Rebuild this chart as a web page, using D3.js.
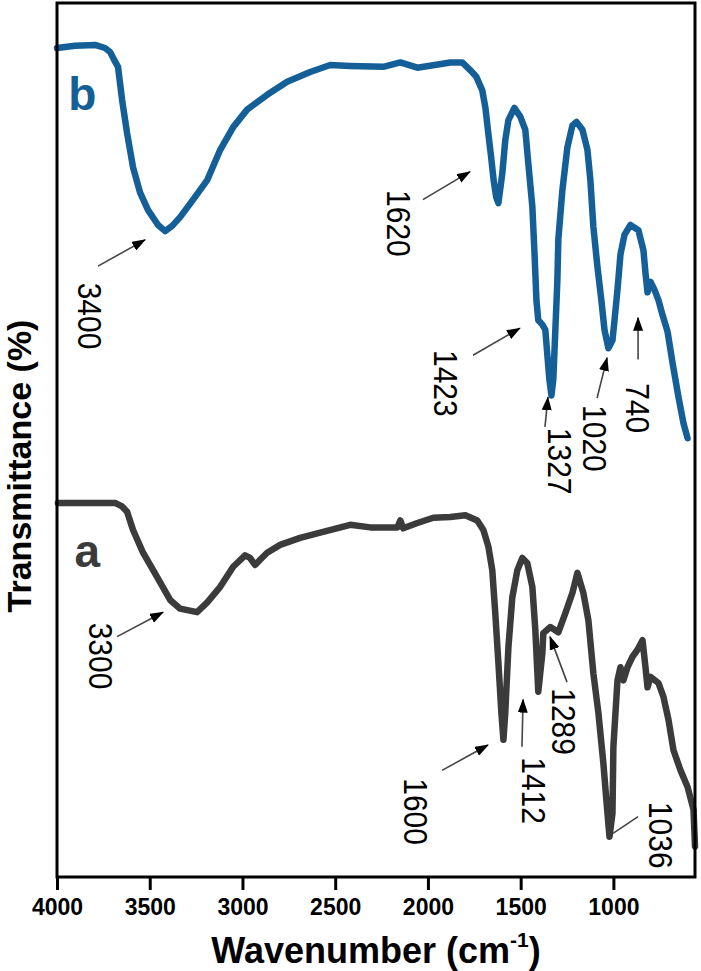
<!DOCTYPE html>
<html><head><meta charset="utf-8">
<script src="https://cdn.jsdelivr.net/npm/d3@7"></script>
<style>
html,body{margin:0;padding:0;background:#fff;}
svg{display:block;}
text{font-family:"Liberation Sans",Arial,sans-serif;}
</style></head>
<body>
<svg id="chart" width="701" height="971"></svg>
<script>
// ---- data ----
const xTicks = [4000, 3500, 3000, 2500, 2000, 1500, 1000];
// spectrum b : [wavenumber, transmittance (a.u.)]
const seriesB = [
[4000,94.85],[3903,95.1],[3795,95.2],[3741,94.85],[3714,94.4],[3692,93.5],[3671,92.7],[3649,88.9],
[3622,85.1],[3590,81.2],[3552,78.3],[3509,76.3],[3455,74.6],[3417,73.9],[3379,74.5],[3336,75.5],
[3266,77.5],[3191,79.7],[3120,83.2],[3050,85.8],[2975,87.8],[2867,89.5],[2759,91.0],[2635,92.1],
[2527,92.9],[2419,92.8],[2241,92.7],[2149,93.2],[2057,92.6],[1879,93.2],[1815,93.2],[1771,92.3],
[1740,91.6],[1707,90.0],[1690,88.0],[1674,85.0],[1660,82.5],[1645,79.6],[1632,77.8],[1620,77.1],
[1599,80.5],[1583,84.3],[1566,86.6],[1534,88.0],[1502,87.0],[1475,85.5],[1459,81.7],[1437,76.7],
[1426,71.7],[1415,66.0],[1405,63.7],[1383,63.2],[1367,62.6],[1356,59.7],[1345,56.9],[1334,55.1],
[1324,56.9],[1313,62.6],[1302,68.3],[1297,72.9],[1275,78.6],[1248,83.5],[1221,86.0],[1199,86.4],
[1167,85.5],[1140,83.2],[1124,79.7],[1108,74.4],[1086,69.8],[1065,66.0],[1048,62.6],[1027,60.5],
[1005,61.4],[994,63.7],[978,67.2],[962,71.2],[940,73.5],[908,74.6],[865,74.0],[838,71.7],
[827,69.1],[816,66.9],[800,68.1],[779,67.2],[757,66.0],[735,64.3],[708,62.4],[681,58.8],
[649,54.9],[622,51.9],[600,50.2]
];
// spectrum a
const seriesA = [
[3995,42.8],[3876,42.8],[3768,42.8],[3687,42.8],[3649,42.4],[3622,41.8],[3590,39.7],[3536,37.1],
[3460,34.3],[3390,31.7],[3336,30.7],[3245,30.3],[3191,31.4],[3120,33.2],[3050,35.5],[2986,36.8],
[2959,36.5],[2932,35.7],[2905,36.3],[2867,37.1],[2797,38.0],[2689,38.8],[2581,39.4],[2419,40.3],
[2311,40.0],[2165,40.0],[2149,40.8],[2133,39.9],[2057,40.5],[1971,41.1],[1879,41.2],[1798,41.4],
[1734,40.8],[1701,39.7],[1674,37.8],[1653,35.1],[1637,30.2],[1620,24.5],[1604,18.8],[1593,15.7],
[1583,18.8],[1566,26.3],[1545,32.0],[1518,35.1],[1491,36.5],[1464,35.9],[1437,33.2],[1421,28.3],
[1405,21.2],[1383,25.6],[1378,27.9],[1340,28.6],[1297,28.0],[1259,30.2],[1221,32.5],[1194,34.8],
[1162,32.5],[1135,29.4],[1108,23.3],[1081,18.8],[1054,13.0],[1032,7.3],[1021,4.6],[1005,7.3],
[1000,14.9],[978,22.5],[962,24.0],[946,22.5],[924,24.0],[897,25.2],[870,26.0],[843,27.1],
[827,24.0],[816,21.7],[800,22.9],[757,22.2],[730,20.6],[703,18.0],[676,14.5],[638,12.2],
[600,10.3],[568,7.7],[560,3.5]
];
// peak annotations: label, arrow tail [w,v], arrow head [w,v], label anchor [w,v], arrowhead?
const annotations = [
{label:"3400", tail:[3779,69.9], head:[3525,72.9], pos:[3822,68.0], tip:true},
{label:"1620", tail:[2027,77.5], head:[1773,80.7], pos:[2156,78.6], tip:true},
{label:"1423", tail:[1757,59.7], head:[1504,62.8], pos:[1903,60.3], tip:true},
{label:"1327", tail:[1369,51.5], head:[1353,54.9], pos:[1288,51.4], tip:true},
{label:"1020", tail:[1088,54.8], head:[1034,59.4], pos:[1104,54.0], tip:true},
{label:"740",  tail:[867,59.2],  head:[867,64.0],  pos:[867,56.5],  tip:true},
{label:"3300", tail:[3676,27.5], head:[3428,30.3], pos:[3763,29.1], tip:true},
{label:"1600", tail:[1924,12.2], head:[1676,15.1], pos:[2064,11.3], tip:true},
{label:"1412", tail:[1493,14.9], head:[1487,20.3], pos:[1428,13.7], tip:true},
{label:"1289", tail:[1250,22.3], head:[1342,27.5], pos:[1266,21.6], tip:true},
{label:"1036", tail:[867,6.9],   head:[1002,5.0],  pos:[743,8.6],   tip:false}
];
const seriesLabels = [
{label:"b", pos:[3940,87.8], color:"#145f97"},
{label:"a", pos:[3905,35.5], color:"#3b3b3b"}
];

// ---- layout ----
const W = 701, H = 971;
const L = 57, R = 695, T = 3, B = 877;
const svg = d3.select("#chart");

const x = d3.scaleLinear().domain([4000, 560]).range([L, R]);
const y = d3.scaleLinear().domain([0, 100]).range([B, T]);

svg.append("defs").append("marker")
  .attr("id","ah").attr("viewBox","0 0 14 10").attr("refX",13).attr("refY",5)
  .attr("markerWidth",14).attr("markerHeight",10).attr("markerUnits","userSpaceOnUse")
  .attr("orient","auto")
  .append("path").attr("d","M0,0L14,5L0,10Z").attr("fill","#000");

const line = d3.line().x(d=>x(d[0])).y(d=>y(d[1]));

svg.append("path").datum(seriesA).attr("d", line)
  .attr("fill","none").attr("stroke","#3b3b3b").attr("stroke-width",6.5)
  .attr("stroke-linejoin","round").attr("stroke-linecap","round");
svg.append("path").datum(seriesB).attr("d", line)
  .attr("fill","none").attr("stroke","#145f97").attr("stroke-width",6.5)
  .attr("stroke-linejoin","round").attr("stroke-linecap","round");

// annotations
const ann = svg.append("g");
annotations.forEach(a=>{
  ann.append("line")
    .attr("x1",x(a.tail[0])).attr("y1",y(a.tail[1]))
    .attr("x2",x(a.head[0])).attr("y2",y(a.head[1]))
    .attr("stroke","#444").attr("stroke-width",1.6)
    .attr("marker-end", a.tip ? "url(#ah)" : null);
  ann.append("text")
    .attr("transform",`translate(${x(a.pos[0])},${y(a.pos[1])}) rotate(90) scale(1,1.12)`)
    .attr("text-anchor","start").attr("dominant-baseline","central")
    .attr("font-size",30).attr("fill","#000")
    .text(a.label);
});

seriesLabels.forEach(s=>{
  svg.append("text").attr("x",x(s.pos[0])).attr("y",y(s.pos[1]))
    .attr("font-size",46).attr("font-weight","bold").attr("fill",s.color)
    .text(s.label);
});

// frame
svg.append("rect").attr("x",L).attr("y",T).attr("width",R-L).attr("height",B-T)
  .attr("fill","none").attr("stroke","#000").attr("stroke-width",3);

// x axis
const xAxis = svg.append("g").attr("transform",`translate(0,${B})`)
  .call(d3.axisBottom(x).tickValues(xTicks).tickSize(13).tickPadding(9).tickFormat(d3.format("d")));
xAxis.select(".domain").remove();
xAxis.selectAll(".tick line").attr("stroke","#000").attr("stroke-width",3);
xAxis.selectAll(".tick text").attr("font-size",23).attr("font-weight","bold")
  .attr("font-family","'Liberation Sans',Arial,sans-serif").attr("fill","#000");

// axis titles
const xt = svg.append("text").attr("x",(L+R)/2).attr("y",963).attr("text-anchor","middle")
  .attr("font-size",36).attr("font-weight","bold");
xt.append("tspan").text("Wavenumber (cm");
xt.append("tspan").attr("font-size",21).attr("dy",-16).text("-1");
xt.append("tspan").attr("dy",16).text(")");

svg.append("text").attr("transform","translate(31,466) rotate(-90)")
  .attr("text-anchor","middle").attr("font-size",34).attr("font-weight","bold")
  .text("Transmittance (%)");
</script>
</body></html>
